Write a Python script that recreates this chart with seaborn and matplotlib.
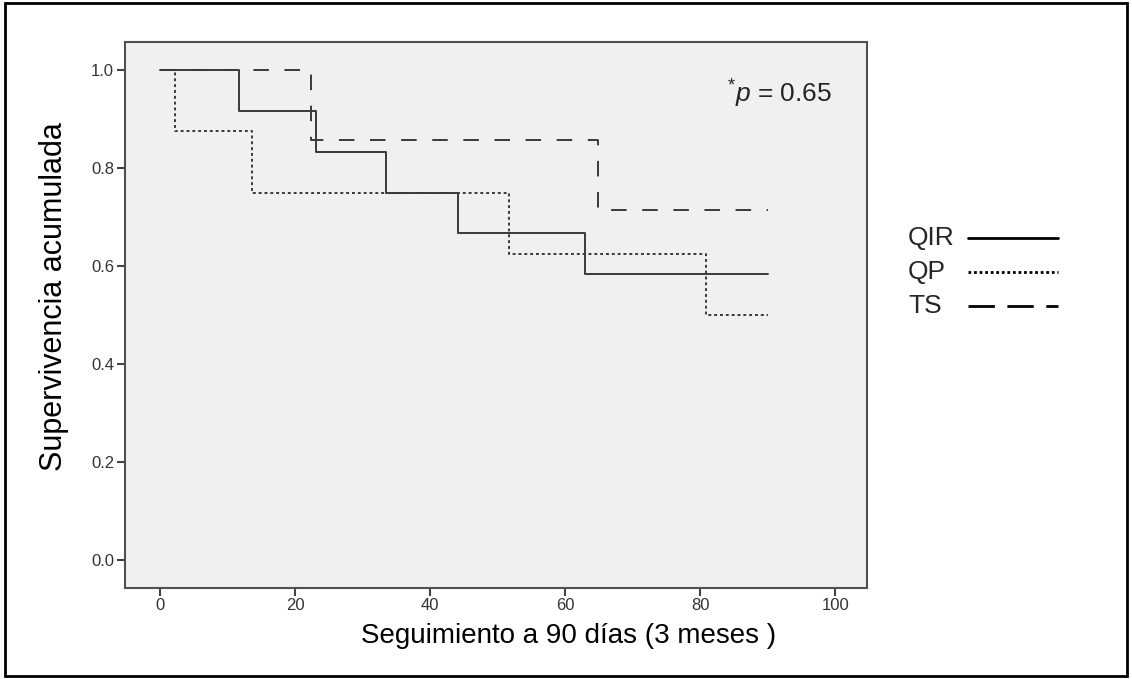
import pandas as pd
import seaborn as sns
import matplotlib
matplotlib.use('Agg')
from matplotlib import pyplot as plt
from matplotlib.lines import Line2D
from matplotlib.patches import Rectangle

# curvas de supervivencia (Kaplan-Meier)
qir_t = [0, 11.7, 23.0, 33.5, 44.1, 62.9, 90]
qir_s = [1.0, 0.917, 0.833, 0.75, 0.667, 0.583, 0.583]
qp_t = [0, 2.2, 13.6, 51.6, 80.9, 90]
qp_s = [1.0, 0.875, 0.75, 0.625, 0.5, 0.5]
ts_t = [0, 22.3, 64.8, 90]
ts_s = [1.0, 0.857, 0.714, 0.714]
grupos = ['QIR', 'QP', 'TS']
x_ticks = [0, 20, 40, 60, 80, 100]
y_ticks = [0.0, 0.2, 0.4, 0.6, 0.8, 1.0]

sns.set_style('ticks')
plt.rcParams['font.family'] = ['Liberation Sans', 'DejaVu Sans']
plt.rcParams['mathtext.fontset'] = 'custom'
plt.rcParams['mathtext.rm'] = 'Liberation Sans'
plt.rcParams['mathtext.it'] = 'Liberation Sans:italic'

df = pd.concat([
    pd.DataFrame({'grupo': 'QIR', 'dias': qir_t, 'surv': qir_s}),
    pd.DataFrame({'grupo': 'QP', 'dias': qp_t, 'surv': qp_s}),
    pd.DataFrame({'grupo': 'TS', 'dias': ts_t, 'surv': ts_s}),
])

color = '#3a3a3a'
estilos = {'QIR': '', 'QP': (1.5, 1.5), 'TS': (8, 8)}

fig = plt.figure(figsize=(11.32, 6.79), dpi=100)
ax = fig.add_axes([0.110, 0.134, 0.656, 0.804])
ax.set_facecolor('#f0f0f0')

sns.lineplot(data=df, x='dias', y='surv', style='grupo', dashes=estilos,
             style_order=grupos, units='grupo', estimator=None,
             drawstyle='steps-post', color=color, linewidth=1.4,
             legend=False, ax=ax)

ax.set_xlim(-5.3, 104.7)
ax.set_ylim(-0.057, 1.057)
ax.set_xticks(x_ticks)
ax.set_xticklabels([str(v) for v in x_ticks], fontsize=12)
ax.set_yticks(y_ticks)
ax.set_yticklabels([f'{v:.1f}' for v in y_ticks], fontsize=12)
ax.tick_params(direction='out', length=6, width=1.5, pad=1.5,
               color='#444444', labelcolor='#333333')
for s in ax.spines.values():
    s.set_color('#505050')
    s.set_linewidth(1.5)

ax.set_xlabel('Seguimiento a 90 días (3 meses )', fontsize=20, color='black', labelpad=7)
ax.xaxis.label.set_x(0.598)
ax.set_ylabel('Supervivencia acumulada', fontsize=22, color='black', labelpad=16)
ax.yaxis.label.set_y(0.533)

ax.text(84.0, 0.951, r'$^{*}p$ = 0.65', fontsize=19, ha='left', va='center')

# leyenda fuera del grafico: etiqueta a la izquierda, linea a la derecha
leg_y = [238, 272, 306]
leg_dash = {'QIR': None, 'QP': (1, 1), 'TS': (9.5, 4.5)}
W, H = 1132, 679
for g, yy in zip(grupos, leg_y):
    fig.text(908 / W, 1 - yy / H, g, fontsize=19, ha='left', va='center')
    ln = Line2D([968 / W, 1058 / W], [1 - yy / H, 1 - yy / H], transform=fig.transFigure,
                color='black', lw=2)
    if leg_dash[g] is not None:
        ln.set_dashes(leg_dash[g])
    fig.lines.append(ln)

# marco exterior
fig.patches.append(Rectangle((0.004, 0.004), 0.992, 0.992, transform=fig.transFigure,
                             fill=False, edgecolor='black', linewidth=2))

fig.savefig('out.png', dpi=100)
